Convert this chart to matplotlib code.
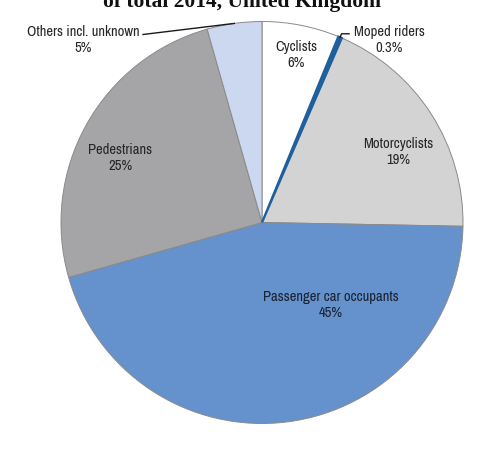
import numpy as np
import matplotlib
matplotlib.use("Agg")
import matplotlib.pyplot as plt
from matplotlib import font_manager

categories = ['Cyclists', 'Moped riders', 'Motorcyclists',
              'Passenger car occupants', 'Pedestrians', 'Others incl. unknown']
values = [6.2, 0.3, 18.8, 45.3, 25.0, 4.4]
pct_labels = ['6%', '0.3%', '19%', '45%', '25%', '5%']
colors = ['#ffffff', '#1f5f9c', '#d3d3d3', '#6591cc', '#a5a5a8', '#cbd8ef']
title = 'of total 2014, United Kingdom'

W, H = 486, 454
names = {f.name for f in font_manager.fontManager.ttflist}
lab_font = [f for f in ['Archivo Narrow', 'Liberation Sans Narrow', 'Liberation Sans', 'DejaVu Sans']
            if f in names] or ['DejaVu Sans']
title_font = [f for f in ['Roboto Slab', 'Liberation Serif', 'DejaVu Serif'] if f in names] or ['DejaVu Serif']

fig = plt.figure(figsize=(W / 100, H / 100), dpi=100)
ax = fig.add_axes([0, 0, 1, 1])
ax.axis('off')

cx, cy, r = 262, H - 222.5, 201
wedges, _ = ax.pie(values, colors=colors, startangle=90, counterclock=False,
                   center=(cx, cy), radius=r, normalize=True,
                   wedgeprops=dict(edgecolor='#8a8a8a', linewidth=0.7))
# the tiny moped slice is drawn with an outline in its own colour
wedges[1].set_edgecolor(colors[1])
wedges[1].set_linewidth(1.6)
wedges[1].set_zorder(3)
ax.set_xlim(0, W)
ax.set_ylim(0, H)
ax.set_aspect('equal')


def px(x, y):
    return x, H - y


pos = {
    'Cyclists': (296, 47),
    'Moped riders': (389, 32),
    'Motorcyclists': (398, 144),
    'Passenger car occupants': (331, 297),
    'Pedestrians': (120, 150),
    'Others incl. unknown': (83, 32),
}
txtcol = '#262626'
for cat, pct in zip(categories, pct_labels):
    x, y = pos[cat]
    col = '#1a2230' if cat.startswith('Passenger') else txtcol
    ax.text(*px(x, y), cat, ha='center', va='center', fontsize=10.5,
            family=lab_font, color=col)
    ax.text(*px(x, y + 16), pct, ha='center', va='center', fontsize=10.5,
            family=lab_font, color=col)

cum = np.cumsum([0] + values) / sum(values)


def arc_point(i, rr=r):
    frac = (cum[i] + cum[i + 1]) / 2
    ang = np.pi / 2 - 2 * np.pi * frac
    return cx + rr * np.cos(ang), cy + rr * np.sin(ang)


mx, my = arc_point(1, r)
ax.plot([mx, mx + 1.5, mx + 9], [my, my + 3.5, my + 3.5], color='#1a1a1a', lw=1.0, zorder=4)
ox, oy = arc_point(5, r)
ax.plot([ox, 143], [oy, H - 34.5], color='#1a1a1a', lw=1.0, zorder=4)

fig.text(242 / W, 1 - 7 / H, title, ha='center', va='baseline', fontsize=15.5,
         fontweight='bold', family=title_font, color='#111111')

fig.savefig('out.png', dpi=100)
